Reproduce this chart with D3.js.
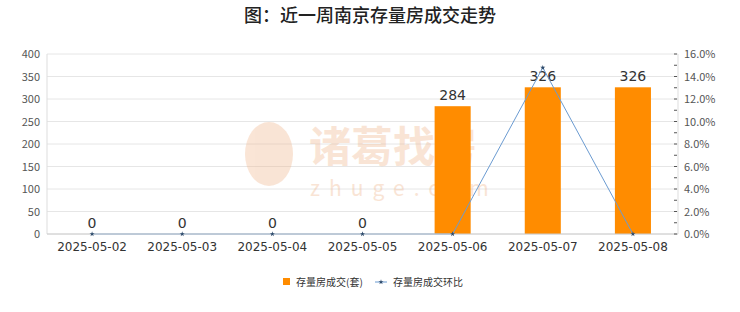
<!DOCTYPE html>
<html lang="zh">
<head>
<meta charset="UTF-8">
<title>近一周南京存量房成交走势</title>
<script src="https://d3js.org/d3.v7.min.js"></script>
<style>
  body { margin: 0; background: #fff; font-family: "Noto Sans CJK SC", "DejaVu Sans", sans-serif; }
  svg text { fill: #333; }
</style>
</head>
<body>
<svg id="chart" width="740" height="312"></svg>
<script>
// data
const dates = ["2025-05-02", "2025-05-03", "2025-05-04", "2025-05-05", "2025-05-06", "2025-05-07", "2025-05-08"];
const deals = [0, 0, 0, 0, 284, 326, 326];
const ratio = [0, 0, 0, 0, 0, 14.79, 0];
const leftTicks = [0, 50, 100, 150, 200, 250, 300, 350, 400];
const rightTicks = [0, 2, 4, 6, 8, 10, 12, 14, 16];

const svg = d3.select("#chart");
const margin = { top: 54, right: 62, bottom: 78, left: 47 };
const W = 740, H = 312;
const width = W - margin.left - margin.right,
      height = H - margin.top - margin.bottom;

const x = d3.scaleBand().domain(dates).range([0, width]);
const yL = d3.scaleLinear().domain([0, 400]).range([height, 0]);
const yR = d3.scaleLinear().domain([0, 16]).range([height, 0]);

// title
svg.append("text")
    .attr("x", W / 2).attr("y", 22)
    .attr("text-anchor", "middle")
    .style("font-size", "18px")
    .style("font-weight", "500")
    .style("fill", "#222")
    .text("图：近一周南京存量房成交走势");

const g = svg.append("g").attr("transform", `translate(${margin.left},${margin.top})`);

// grid lines
g.selectAll(".grid").data(leftTicks).enter().append("line")
    .attr("x1", 0).attr("x2", width)
    .attr("y1", d => yL(d)).attr("y2", d => yL(d))
    .attr("stroke", "#e6e6e6");

// watermark
const wm = g.append("g").style("opacity", 0.35);
wm.append("text")
    .attr("x", 262).attr("y", 108)
    .style("font-size", "42px")
    .style("fill", "#f0b48a")
    .style("font-weight", "bold")
    .text("诸葛找房");
wm.append("text")
    .attr("x", 263).attr("y", 142)
    .style("font-size", "21px")
    .style("letter-spacing", "9px")
    .style("fill", "#f0b48a")
    .text("zhuge.com");
wm.append("ellipse")
    .attr("cx", 222).attr("cy", 100).attr("rx", 24).attr("ry", 32)
    .attr("fill", "#f0b48a");

// bars
g.selectAll(".bar").data(dates).enter().append("rect")
    .attr("x", (d, i) => x(d) + x.bandwidth() * 0.3)
    .attr("width", x.bandwidth() * 0.4)
    .attr("y", (d, i) => yL(deals[i]))
    .attr("height", (d, i) => height - yL(deals[i]))
    .attr("fill", "#ff8c00");

// bar labels
g.selectAll(".lbl").data(dates).enter().append("text")
    .attr("x", d => x(d) + x.bandwidth() / 2)
    .attr("y", (d, i) => yL(deals[i]) - 6)
    .attr("text-anchor", "middle")
    .style("font-size", "14px")
    .style("font-family", "DejaVu Sans, sans-serif")
    .text((d, i) => deals[i]);

// ratio line
const line = d3.line()
    .x((d, i) => x(dates[i]) + x.bandwidth() / 2)
    .y(d => yR(d));
g.append("path").datum(ratio)
    .attr("d", line)
    .attr("fill", "none")
    .attr("stroke", "#6b9bd1")
    .attr("stroke-width", 1);

// axes frame
g.append("line").attr("x1", 0).attr("x2", 0).attr("y1", 0).attr("y2", height).attr("stroke", "#ddd");
g.append("line").attr("x1", width).attr("x2", width).attr("y1", 0).attr("y2", height).attr("stroke", "#ddd");
g.append("line").attr("x1", 0).attr("x2", width).attr("y1", height).attr("y2", height).attr("stroke", "#ccc");

const star = d3.symbol().type(d3.symbolStar).size(8);
g.selectAll(".pt").data(ratio).enter().append("path")
    .attr("d", star)
    .attr("transform", (d, i) => `translate(${x(dates[i]) + x.bandwidth() / 2},${yR(d)})`)
    .attr("fill", "#2d4a6b");

// left axis labels
g.selectAll(".ly").data(leftTicks).enter().append("text")
    .attr("x", -7).attr("y", d => yL(d) + 4)
    .attr("text-anchor", "end")
    .style("font-size", "11px")
    .style("fill", "#555")
    .text(d => d);

// right axis ticks (major + minor)
const minor = d3.range(1, 16, 2);
g.selectAll(".rt").data(rightTicks.concat(minor)).enter().append("line")
    .attr("x1", width - 4).attr("x2", width - 1)
    .attr("y1", d => yR(d)).attr("y2", d => yR(d))
    .attr("stroke", "#555");
g.selectAll(".ry").data(rightTicks).enter().append("text")
    .attr("x", width + 6).attr("y", d => yR(d) + 4)
    .style("font-size", "11px")
    .style("fill", "#555")
    .text(d => d.toFixed(1) + "%");

// x axis labels
g.selectAll(".xl").data(dates).enter().append("text")
    .attr("x", d => x(d) + x.bandwidth() / 2)
    .attr("y", height + 17)
    .attr("text-anchor", "middle")
    .style("font-size", "12px")
    .style("font-family", "DejaVu Sans, sans-serif")
    .text(d => d);

// legend
const lg = svg.append("g").attr("transform", "translate(283,282)");
lg.append("rect").attr("x", 0).attr("y", -4).attr("width", 7).attr("height", 7).attr("fill", "#ff8c00");
lg.append("text").attr("x", 13).attr("y", 4).style("font-size", "10px").text("存量房成交(套)");
lg.append("line").attr("x1", 92).attr("x2", 104).attr("y1", 0).attr("y2", 0).attr("stroke", "#6b9bd1");
lg.append("path").attr("d", star).attr("transform", "translate(98,0)").attr("fill", "#2d4a6b");
lg.append("text").attr("x", 110).attr("y", 4).style("font-size", "10px").text("存量房成交环比");
</script>
</body>
</html>
